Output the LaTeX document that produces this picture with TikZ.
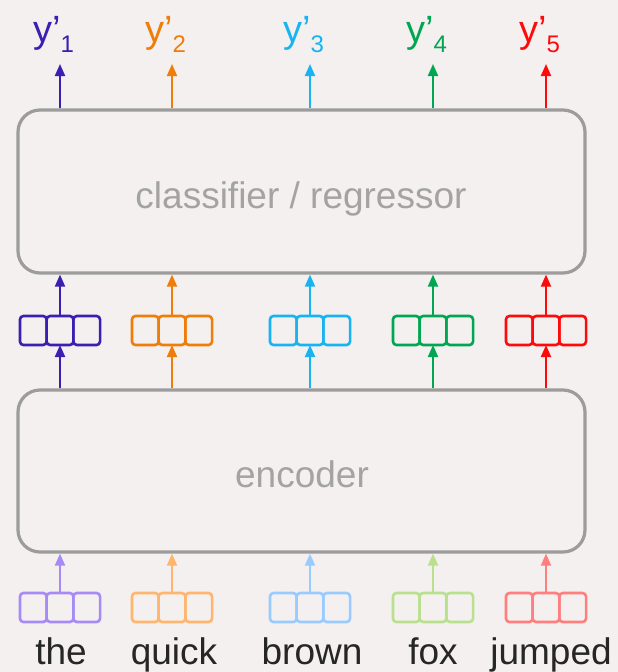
\documentclass[tikz,border=0pt]{standalone}
\usepackage{fontspec}
\setmainfont{Liberation Sans}
\usetikzlibrary{arrows.meta}
\definecolor{bg}{HTML}{F4F0EF}
\definecolor{boxgray}{HTML}{9C9C9C}
\definecolor{txtgray}{HTML}{A3A3A3}
\definecolor{cA}{HTML}{3A1FB0}
\definecolor{cB}{HTML}{EE7D0A}
\definecolor{cC}{HTML}{18B4F2}
\definecolor{cD}{HTML}{00A651}
\definecolor{cE}{HTML}{FF0A0A}
\definecolor{pA}{HTML}{A68AF5}
\definecolor{pB}{HTML}{FFB56E}
\definecolor{pC}{HTML}{9ACBFF}
\definecolor{pD}{HTML}{B9E08C}
\definecolor{pE}{HTML}{FF7E7E}
\tikzset{
  bigbox/.style={draw=boxgray, line width=3.2pt, rounded corners=22pt, fill=none},
  cell/.style={draw, line width=2.6pt, rounded corners=3.5pt, minimum width=26.7pt, minimum height=29pt, inner sep=0pt, outer sep=0pt},
  conn/.style={line width=2pt, -{Triangle[width=10pt,length=12pt]}},
  boxtxt/.style={text=txtgray, font=\fontsize{37}{40}\selectfont, anchor=base},
  word/.style={text=black!85, font=\fontsize{37}{40}\selectfont, anchor=base},
  lab/.style={font=\fontsize{38}{40}\selectfont, anchor=base west, inner sep=0pt}
}
\begin{document}
\begin{tikzpicture}[x=1pt,y=-1pt]
\fill[bg] (0,0) rectangle (618,672);
\useasboundingbox (0,0) rectangle (618,672);
% big boxes
\node[bigbox, minimum width=567pt, minimum height=163pt, inner sep=0pt] (cls) at (301.5,191.5) {};
\node[boxtxt] (clst) at (301,208) {classifier / regressor};
\node[bigbox, minimum width=567pt, minimum height=162pt, inner sep=0pt] (enc) at (301.5,471) {};
\node[boxtxt] (enct) at (302,487) {encoder};
% columns
\foreach \i/\cx/\dc/\pc/\w/\wx in {1/60/cA/pA/the/61, 2/172/cB/pB/quick/174, 3/310/cC/pC/brown/312, 4/433/cD/pD/fox/433, 5/546/cE/pE/jumped/551}{
  % middle vector
  \node[cell, draw=\dc] (m\i b) at (\cx,330.5) {};
  \node[cell, draw=\dc, anchor=east] (m\i a) at (m\i b.west) {};
  \node[cell, draw=\dc, anchor=west] (m\i c) at (m\i b.east) {};
  % bottom vector
  \node[cell, draw=\pc] (b\i b) at (\cx,607.5) {};
  \node[cell, draw=\pc, anchor=east] (b\i a) at (b\i b.west) {};
  \node[cell, draw=\pc, anchor=west] (b\i c) at (b\i b.east) {};
  % word
  \node[word] (w\i) at (\wx,664) {\w};
  % label
  \node[lab, text=\dc] (l\i) at (\cx-27,42) {y’\raisebox{-10pt}{\fontsize{24}{24}\selectfont\i}};
  \coordinate (t\i) at (\cx,64);
  % connectors
  \draw[conn, draw=\pc, fill=\pc] (b\i b.north) -- (enc.south -| b\i b);
  \draw[conn, draw=\dc, fill=\dc] (enc.north -| m\i b) -- (m\i b.south);
  \draw[conn, draw=\dc, fill=\dc] (m\i b.north) -- (cls.south -| m\i b);
  \draw[conn, draw=\dc, fill=\dc] (cls.north -| m\i b) -- (t\i);
}
\end{tikzpicture}
\end{document}
